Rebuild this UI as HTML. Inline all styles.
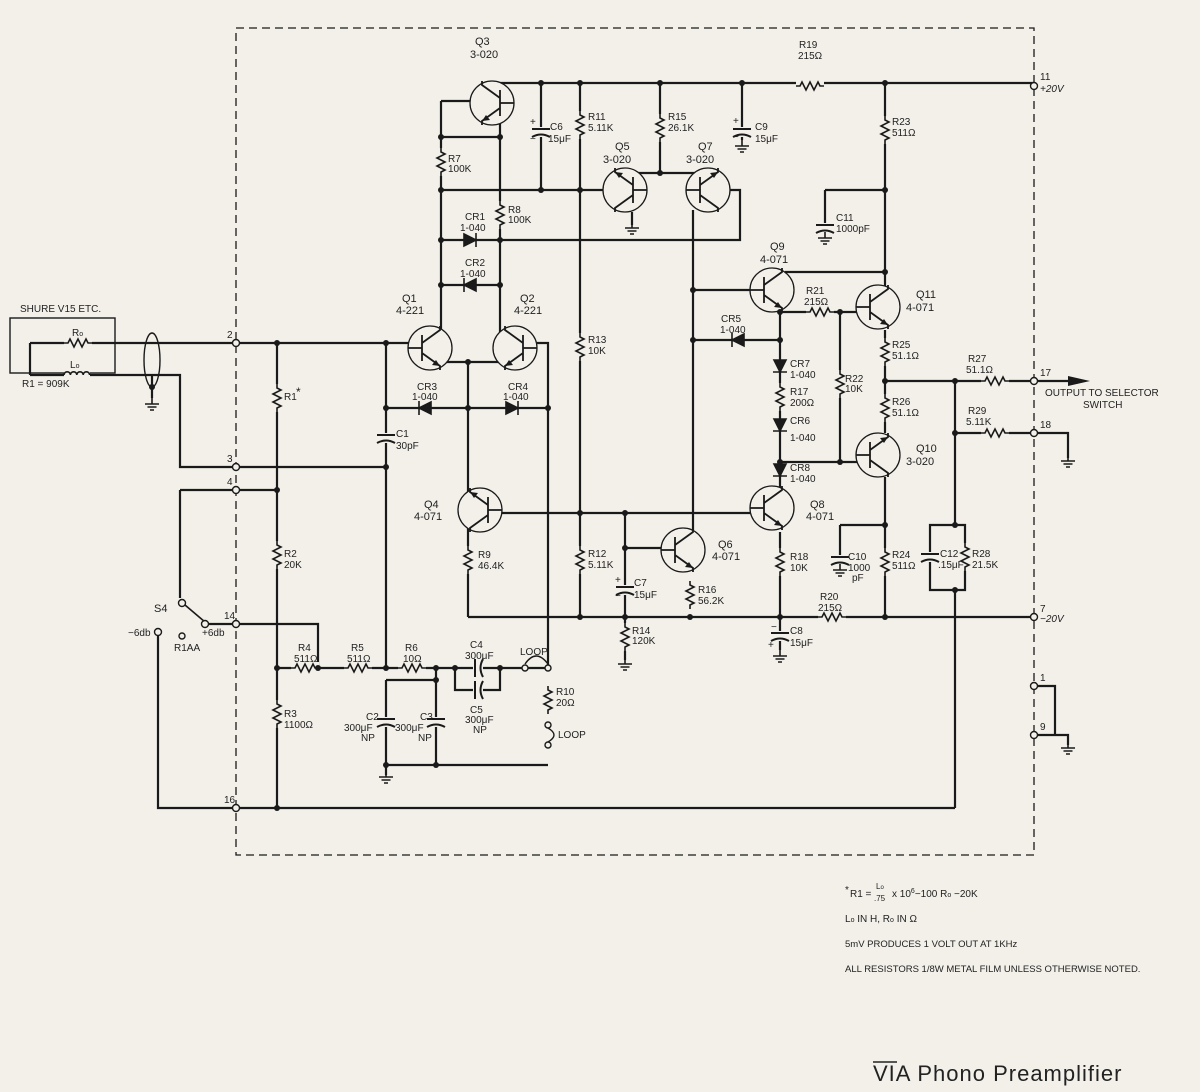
<!DOCTYPE html>
<html><head><meta charset="utf-8"><style>
html,body{margin:0;padding:0;background:#f2f0e9}
svg{display:block}
text{font-family:"Liberation Sans",sans-serif;fill:#222}
</style></head><body>
<svg width="1200" height="1092" viewBox="0 0 1200 1092" xmlns="http://www.w3.org/2000/svg" font-size="10">
<defs>
<g id="rv"><rect x="-6" y="-14" width="12" height="28" fill="#f2f0e9"/><path d="M0 -14 L0 -10 L4 -8 L-4 -4 L4 0 L-4 4 L4 8 L0 10 L0 14" fill="none" stroke="#1a1a1a" stroke-width="1.6"/></g>
<g id="rh"><rect x="-14" y="-6" width="28" height="12" fill="#f2f0e9"/><path d="M-14 0 L-10 0 L-8 -4 L-4 4 L0 -4 L4 4 L8 -4 L10 0 L14 0" fill="none" stroke="#1a1a1a" stroke-width="1.6"/></g>
<g id="cv"><rect x="-10" y="-5" width="20" height="10" fill="#f2f0e9"/><path d="M-9 -3 L9 -3 M-9 5 Q0 0 9 5" fill="none" stroke="#1a1a1a" stroke-width="2"/></g>
<g id="ch"><rect x="-5" y="-10" width="10" height="20" fill="#f2f0e9"/><path d="M-3 -9 L-3 9 M5 -9 Q0 0 5 9" fill="none" stroke="#1a1a1a" stroke-width="2"/></g>
<g id="dr"><path d="M-6 -6 L6 0 L-6 6 Z M6 -7 L6 7" fill="#1a1a1a" stroke="#1a1a1a" stroke-width="1.6"/></g>
<g id="dl"><path d="M6 -6 L-6 0 L6 6 Z M-6 -7 L-6 7" fill="#1a1a1a" stroke="#1a1a1a" stroke-width="1.6"/></g>
<g id="dd"><path d="M-6 -6 L0 6 L6 -6 Z M-7 6 L7 6" fill="#1a1a1a" stroke="#1a1a1a" stroke-width="1.6"/></g>
<g id="gnd"><path d="M0 0 L0 6 M-7 6 L7 6 M-4.5 9 L4.5 9 M-2 12 L2 12" stroke="#1a1a1a" stroke-width="1.6" fill="none"/></g>
<g id="q"><circle r="22" fill="#f2f0e9" stroke="#1a1a1a" stroke-width="1.3"/><path d="M-22 0 L-8 0 M-8 -13 L-8 13 M-8 -5 L10 -18 L10 -22 M-8 5 L10 18 L10 22" fill="none" stroke="#1a1a1a" stroke-width="1.8"/><path d="M10 18 L2 17 L6 12 Z" fill="#1a1a1a"/></g>
</defs>
<g stroke="#1a1a1a" stroke-width="2.2" fill="none">
<rect x="236" y="28" width="798" height="827" stroke-width="1.3" stroke-dasharray="8,5"/>
<rect x="10" y="318" width="105" height="55" stroke-width="1.4"/>
<path d="M30 343 L30 375 M30 343 L236 343 M30 375 L180 375 L180 467 L386 467"/>
<ellipse cx="152" cy="360" rx="8" ry="27" stroke-width="1.4"/>
<path d="M152 375 L152 398"/>
<path d="M500 83 L1034 83"/>
<path d="M441 101 L470 101 M441 101 L441 343 M500 120 L500 337 M441 137 L500 137 M441 190 L603 190"/>
<path d="M541 83 L541 190 M580 83 L580 617 M660 83 L660 173 M630 173 L700 173"/>
<path d="M742 83 L742 140 M632 212 L632 225"/>
<path d="M730 190 L740 190 L740 240 L441 240 M441 285 L500 285"/>
<path d="M693 210 L693 530"/>
<path d="M236 343 L410 343 M440 362 L505 362 M468 362 L468 617 M537 343 L548 343 L548 668 M386 343 L386 668 M386 408 L548 408"/>
<path d="M502 513 L760 513 M625 513 L625 660 M625 548 L665 548 M468 617 L1034 617"/>
<path d="M277 343 L277 808 M180 490 L277 490 M180 490 L180 598 M205 624 L318 624 L318 668 M277 668 L548 668 M158 634 L158 808 L955 808"/>
<path d="M386 680 L436 680 M436 668 L436 765 M386 680 L386 775 M386 765 L548 765 M455 668 L455 690 L500 690 L500 668"/>
<path d="M185 605 L205 622" stroke-width="1.6"/>
<path d="M693 290 L755 290 M785 272 L885 272 M780 312 L780 492 M693 340 L780 340 M780 312 L860 312 M840 312 L840 462 M780 462 L858 462"/>
<path d="M885 83 L885 288 M825 190 L885 190 M825 190 L825 225 M885 330 L885 433 M885 477 L885 617 M840 525 L885 525 M840 525 L840 558"/>
<path d="M885 381 L1070 381 M955 381 L955 525 M930 525 L965 525 L965 590 L930 590 Z M955 590 L955 808 M955 433 L1034 433 L1068 433 L1068 458"/>
<path d="M780 532 L780 617 M780 617 L780 650"/>
<path d="M1034 686 L1055 686 L1055 735 L1034 735 M1055 735 L1068 735 L1068 745"/>
</g>
<path d="M1068 376 L1090 381 L1068 386 Z" fill="#1a1a1a"/>
<use href="#q" transform="translate(492,103) scale(-1,1)"/>
<use href="#q" transform="translate(625,190) scale(-1,-1)"/>
<use href="#q" transform="translate(708,190) scale(-1,1) rotate(180)"/>
<use href="#q" transform="translate(430,348)"/>
<use href="#q" transform="translate(515,348) scale(-1,1)"/>
<use href="#q" transform="translate(480,510) scale(-1,-1)"/>
<use href="#q" transform="translate(683,550)"/>
<use href="#q" transform="translate(772,290)"/>
<use href="#q" transform="translate(878,307)"/>
<use href="#q" transform="translate(878,455) scale(1,-1)"/>
<use href="#q" transform="translate(772,508)"/>
<use href="#rh" x="78" y="343"/>
<use href="#rv" x="441" y="162"/><use href="#rv" x="500" y="215"/>
<use href="#rv" x="580" y="125"/><use href="#rv" x="660" y="128"/>
<use href="#rv" x="580" y="347"/><use href="#rv" x="580" y="560"/>
<use href="#rv" x="277" y="398"/><use href="#rv" x="277" y="555"/><use href="#rv" x="277" y="714"/>
<use href="#rh" x="305" y="668"/><use href="#rh" x="358" y="668"/><use href="#rh" x="412" y="668"/>
<use href="#rv" x="548" y="700"/><use href="#rv" x="468" y="560"/><use href="#rv" x="625" y="637"/><use href="#rv" x="690" y="595"/>
<use href="#rh" x="810" y="86"/><use href="#rv" x="885" y="130"/><use href="#rh" x="820" y="312"/>
<use href="#rv" x="840" y="384"/><use href="#rv" x="780" y="397"/><use href="#rv" x="885" y="352"/><use href="#rv" x="885" y="408"/>
<use href="#rv" x="780" y="562"/><use href="#rv" x="885" y="562"/><use href="#rh" x="832" y="617"/>
<use href="#rh" x="995" y="381"/><use href="#rh" x="995" y="433"/><use href="#rv" x="965" y="557"/>
<rect x="64" y="369" width="26" height="12" fill="#f2f0e9"/>
<path d="M64 375 a3.2 3.2 0 0 1 6.4 0 a3.2 3.2 0 0 1 6.4 0 a3.2 3.2 0 0 1 6.4 0 a3.2 3.2 0 0 1 6.4 0" fill="none" stroke="#1a1a1a" stroke-width="1.6"/>
<use href="#cv" x="541" y="132"/><use href="#cv" x="742" y="132"/><use href="#cv" x="386" y="438"/>
<use href="#cv" x="825" y="228"/><use href="#cv" x="840" y="560"/><use href="#cv" x="625" y="590"/>
<use href="#cv" x="780" y="636"/><use href="#cv" x="386" y="722"/><use href="#cv" x="436" y="722"/>
<use href="#ch" x="478" y="668"/><use href="#ch" x="478" y="690"/><use href="#cv" x="930" y="557"/>
<use href="#dr" x="470" y="240"/><use href="#dl" x="470" y="285"/>
<use href="#dl" x="425" y="408"/><use href="#dr" x="512" y="408"/>
<use href="#dl" x="738" y="340"/>
<use href="#dd" x="780" y="366"/><use href="#dd" x="780" y="425"/><use href="#dd" x="780" y="470"/>
<use href="#gnd" x="152" y="398"/><use href="#gnd" x="632" y="222"/><use href="#gnd" x="742" y="140"/>
<use href="#gnd" x="825" y="232"/><use href="#gnd" x="386" y="771"/><use href="#gnd" x="625" y="658"/>
<use href="#gnd" x="840" y="564"/><use href="#gnd" x="780" y="650"/><use href="#gnd" x="1068" y="455"/><use href="#gnd" x="1068" y="742"/>
<g fill="#1a1a1a">
<circle cx="541" cy="83" r="3"/><circle cx="580" cy="83" r="3"/><circle cx="660" cy="83" r="3"/><circle cx="742" cy="83" r="3"/><circle cx="885" cy="83" r="3"/>
<circle cx="441" cy="137" r="3"/><circle cx="500" cy="137" r="3"/><circle cx="441" cy="190" r="3"/><circle cx="541" cy="190" r="3"/><circle cx="580" cy="190" r="3"/><circle cx="660" cy="173" r="3"/>
<circle cx="441" cy="240" r="3"/><circle cx="500" cy="240" r="3"/><circle cx="441" cy="285" r="3"/><circle cx="500" cy="285" r="3"/>
<circle cx="277" cy="343" r="3"/><circle cx="386" cy="343" r="3"/><circle cx="468" cy="362" r="3"/>
<circle cx="386" cy="408" r="3"/><circle cx="468" cy="408" r="3"/><circle cx="548" cy="408" r="3"/><circle cx="386" cy="467" r="3"/>
<circle cx="277" cy="490" r="3"/><circle cx="277" cy="668" r="3"/><circle cx="318" cy="668" r="3"/><circle cx="386" cy="668" r="3"/>
<circle cx="436" cy="668" r="3"/><circle cx="455" cy="668" r="3"/><circle cx="500" cy="668" r="3"/><circle cx="436" cy="680" r="3"/>
<circle cx="386" cy="765" r="3"/><circle cx="436" cy="765" r="3"/><circle cx="277" cy="808" r="3"/>
<circle cx="580" cy="513" r="3"/><circle cx="625" cy="513" r="3"/><circle cx="625" cy="548" r="3"/>
<circle cx="580" cy="617" r="3"/><circle cx="625" cy="617" r="3"/><circle cx="690" cy="617" r="3"/><circle cx="780" cy="617" r="3"/><circle cx="885" cy="617" r="3"/>
<circle cx="693" cy="290" r="3"/><circle cx="693" cy="340" r="3"/><circle cx="780" cy="340" r="3"/><circle cx="780" cy="312" r="3"/><circle cx="840" cy="312" r="3"/>
<circle cx="780" cy="462" r="3"/><circle cx="840" cy="462" r="3"/><circle cx="885" cy="190" r="3"/><circle cx="885" cy="272" r="3"/>
<circle cx="885" cy="381" r="3"/><circle cx="955" cy="381" r="3"/><circle cx="955" cy="433" r="3"/><circle cx="885" cy="525" r="3"/><circle cx="955" cy="525" r="3"/><circle cx="955" cy="590" r="3"/>
<circle cx="152" cy="387" r="3"/>
</g>
<g fill="#f2f0e9" stroke="#1a1a1a" stroke-width="1.4">
<circle cx="236" cy="343" r="3.5"/><circle cx="236" cy="467" r="3.5"/><circle cx="236" cy="490" r="3.5"/><circle cx="236" cy="624" r="3.5"/><circle cx="236" cy="808" r="3.5"/>
<circle cx="1034" cy="86" r="3.5"/><circle cx="1034" cy="381" r="3.5"/><circle cx="1034" cy="433" r="3.5"/><circle cx="1034" cy="617" r="3.5"/><circle cx="1034" cy="686" r="3.5"/><circle cx="1034" cy="735" r="3.5"/>
<circle cx="182" cy="603" r="3.5"/><circle cx="205" cy="624" r="3.5"/><circle cx="158" cy="632" r="3.5"/><circle cx="182" cy="636" r="3"/>
<circle cx="525" cy="668" r="3"/><circle cx="548" cy="668" r="3"/><circle cx="548" cy="725" r="3"/><circle cx="548" cy="745" r="3"/>
</g>
<path d="M525 664 Q536 648 548 664 M548 728 Q560 735 548 742" fill="none" stroke="#1a1a1a" stroke-width="1.4"/>
<text x="20" y="312">SHURE V15 ETC.</text><text x="72" y="336">R<tspan font-size="7">o</tspan></text><text x="70" y="368">L<tspan font-size="7">o</tspan></text><text x="22" y="387">R1 = 909K</text>
<text x="227" y="338">2</text><text x="227" y="462">3</text><text x="227" y="485">4</text><text x="224" y="619">14</text><text x="224" y="803">16</text>
<text x="1040" y="80">11</text><text x="1040" y="92" font-style="italic">+20V</text><text x="1040" y="376">17</text><text x="1040" y="428">18</text><text x="1040" y="612">7</text><text x="1040" y="622" font-style="italic">−20V</text><text x="1040" y="681">1</text><text x="1040" y="730">9</text>
<text x="1045" y="396">OUTPUT TO SELECTOR</text><text x="1083" y="408">SWITCH</text>
<text x="475" y="45" font-size="11">Q3</text><text x="470" y="58" font-size="11">3-020</text>
<text x="448" y="162">R7</text><text x="448" y="172">100K</text>
<text x="550" y="130">C6</text><text x="548" y="142">15μF</text><text x="530" y="125">+</text><text x="530" y="142">−</text>
<text x="588" y="120">R11</text><text x="588" y="131">5.11K</text><text x="668" y="120">R15</text><text x="668" y="131">26.1K</text>
<text x="755" y="130">C9</text><text x="755" y="142">15μF</text><text x="733" y="124">+</text><text x="733" y="140">−</text>
<text x="615" y="150" font-size="11">Q5</text><text x="603" y="163" font-size="11">3-020</text>
<text x="698" y="150" font-size="11">Q7</text><text x="686" y="163" font-size="11">3-020</text>
<text x="508" y="213">R8</text><text x="508" y="223">100K</text>
<text x="465" y="220">CR1</text><text x="460" y="231">1-040</text><text x="465" y="266">CR2</text><text x="460" y="277">1-040</text>
<text x="402" y="302" font-size="11">Q1</text><text x="396" y="314" font-size="11">4-221</text><text x="520" y="302" font-size="11">Q2</text><text x="514" y="314" font-size="11">4-221</text>
<text x="417" y="390">CR3</text><text x="412" y="400">1-040</text><text x="508" y="390">CR4</text><text x="503" y="400">1-040</text>
<text x="284" y="400">R1</text><text x="296" y="396" font-size="12">*</text>
<text x="396" y="437">C1</text><text x="396" y="449">30pF</text>
<text x="588" y="343">R13</text><text x="588" y="354">10K</text>
<text x="424" y="508" font-size="11">Q4</text><text x="414" y="520" font-size="11">4-071</text>
<text x="478" y="558">R9</text><text x="478" y="569">46.4K</text>
<text x="284" y="557">R2</text><text x="284" y="568">20K</text><text x="284" y="717">R3</text><text x="284" y="728">1100Ω</text>
<text x="154" y="612" font-size="11">S4</text><text x="128" y="636">−6db</text><text x="202" y="636">+6db</text><text x="174" y="651">R1AA</text>
<text x="298" y="651">R4</text><text x="294" y="662">511Ω</text><text x="351" y="651">R5</text><text x="347" y="662">511Ω</text><text x="405" y="651">R6</text><text x="403" y="662">10Ω</text>
<text x="470" y="648">C4</text><text x="465" y="659">300μF</text><text x="520" y="655">LOOP</text>
<text x="470" y="713">C5</text><text x="465" y="723">300μF</text><text x="473" y="733">NP</text>
<text x="366" y="720">C2</text><text x="344" y="731">300μF</text><text x="361" y="741">NP</text>
<text x="420" y="720">C3</text><text x="395" y="731">300μF</text><text x="418" y="741">NP</text>
<text x="556" y="695">R10</text><text x="556" y="706">20Ω</text><text x="558" y="738">LOOP</text>
<text x="588" y="557">R12</text><text x="588" y="568">5.11K</text><text x="615" y="583">+</text><text x="615" y="599">−</text><text x="634" y="586">C7</text><text x="634" y="598">15μF</text>
<text x="632" y="634">R14</text><text x="632" y="644">120K</text>
<text x="718" y="548" font-size="11">Q6</text><text x="712" y="560" font-size="11">4-071</text><text x="698" y="593">R16</text><text x="698" y="604">56.2K</text>
<text x="799" y="48">R19</text><text x="798" y="59">215Ω</text><text x="892" y="125">R23</text><text x="892" y="136">511Ω</text>
<text x="836" y="221">C11</text><text x="836" y="232">1000pF</text>
<text x="770" y="250" font-size="11">Q9</text><text x="760" y="263" font-size="11">4-071</text>
<text x="806" y="294">R21</text><text x="804" y="305">215Ω</text><text x="916" y="298" font-size="11">Q11</text><text x="906" y="311" font-size="11">4-071</text>
<text x="721" y="322">CR5</text><text x="720" y="333">1-040</text>
<text x="790" y="367">CR7</text><text x="790" y="378">1-040</text><text x="790" y="395">R17</text><text x="790" y="406">200Ω</text>
<text x="790" y="424">CR6</text><text x="790" y="441">1-040</text><text x="790" y="471">CR8</text><text x="790" y="482">1-040</text>
<text x="845" y="382">R22</text><text x="845" y="392">10K</text>
<text x="892" y="348">R25</text><text x="892" y="359">51.1Ω</text><text x="892" y="405">R26</text><text x="892" y="416">51.1Ω</text>
<text x="968" y="362">R27</text><text x="966" y="373">51.1Ω</text>
<text x="968" y="414">R29</text><text x="966" y="425">5.11K</text>
<text x="916" y="452" font-size="11">Q10</text><text x="906" y="465" font-size="11">3-020</text>
<text x="810" y="508" font-size="11">Q8</text><text x="806" y="520" font-size="11">4-071</text>
<text x="790" y="560">R18</text><text x="790" y="571">10K</text>
<text x="848" y="560">C10</text><text x="848" y="571">1000</text><text x="852" y="581">pF</text>
<text x="892" y="558">R24</text><text x="892" y="569">511Ω</text>
<text x="940" y="557">C12</text><text x="938" y="568">.15μF</text><text x="972" y="557">R28</text><text x="972" y="568">21.5K</text>
<text x="820" y="600">R20</text><text x="818" y="611">215Ω</text>
<text x="790" y="634">C8</text><text x="790" y="646">15μF</text><text x="771" y="630">−</text><text x="768" y="648">+</text>
<text x="845" y="893">*</text><text x="850" y="897">R1 =</text><text x="876" y="889" font-size="8">L<tspan font-size="6">o</tspan></text><text x="874" y="901" font-size="8">.75</text><text x="892" y="897">x 10<tspan font-size="7" dy="-4">6</tspan><tspan dy="4">−100 R</tspan><tspan font-size="7">o</tspan> −20K</text>
<text x="845" y="922">L<tspan font-size="7">o</tspan> IN H, R<tspan font-size="7">o</tspan> IN Ω</text>
<text x="845" y="947" font-size="9.5">5mV PRODUCES 1 VOLT OUT AT 1KHz</text>
<text x="845" y="972" font-size="9.5">ALL RESISTORS 1/8W METAL FILM UNLESS OTHERWISE NOTED.</text>
<text x="873" y="1081" font-size="22" letter-spacing="1">VIA Phono Preamplifier</text>
<path d="M873 1062 L897 1062" stroke="#222" stroke-width="1.5"/>
</svg>
</body></html>
